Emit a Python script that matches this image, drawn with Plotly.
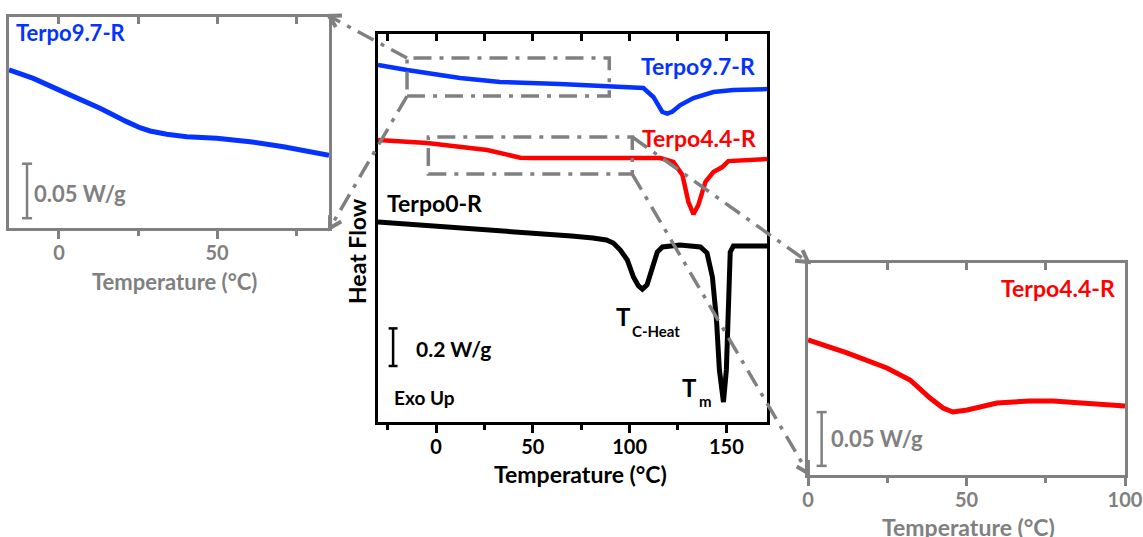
import math
import plotly.graph_objects as go

W, H = 1143, 537

# ---------------- data ----------------
# main panel: heat flow (W/g, arbitrary offset) vs temperature (°C)
t0_T = [-30, 0, 25, 47, 70, 81, 88, 91.6, 95.2, 98.8, 102, 104.5, 106.6, 109, 111.7,
        114.3, 117, 126, 136.6, 140, 142.8, 144.9, 146.4, 148.5, 150, 151, 152, 153.6, 171]
t0_HF = [1.064, 1.043, 1.027, 1.005, 0.989, 0.979, 0.968, 0.952, 0.915, 0.862, 0.771, 0.725,
         0.707, 0.729, 0.824, 0.904, 0.931, 0.941, 0.931, 0.899, 0.771, 0.543, 0.277, 0.106,
         0.277, 0.633, 0.904, 0.936, 0.936]

t44_T = [-30, -4.7, 26.4, 36, 43.5, 50.2, 81.2, 115.9, 122.6, 127.3, 130.4, 133, 135.5, 139.2,
         143.3, 147.9, 151, 158.8, 171]
t44_HF = [1.500, 1.484, 1.447, 1.425, 1.406, 1.404, 1.404, 1.404, 1.383, 1.314, 1.170, 1.106,
          1.154, 1.277, 1.330, 1.356, 1.388, 1.394, 1.399]

t97_T = [-30, -15, 12.4, 33.1, 64.1, 90, 107.1, 112.3, 116.9, 119.5, 122, 126.2, 133,
         143.3, 153.6, 171]
t97_HF = [1.899, 1.872, 1.830, 1.809, 1.798, 1.787, 1.777, 1.729, 1.649, 1.640, 1.650, 1.686,
          1.723, 1.755, 1.766, 1.771]

# left inset (Terpo9.7-R, zoom)
l97_T = [-15.8, -8.1, 2.4, 13, 21.4, 25.6, 28.8, 34.1, 40.4, 49.9, 60.4, 71, 85.4]
l97_HF = [0.1450, 0.1373, 0.1235, 0.1098, 0.0976, 0.0920, 0.0890, 0.0860, 0.0838, 0.0823,
          0.0792, 0.0746, 0.0668]

# right inset (Terpo4.4-R, zoom)
r44_T = [0, 12.3, 24.9, 32.2, 38.5, 42.6, 45.7, 50.2, 59.6, 70, 77.3, 85.8, 100]
r44_HF = [0.1256, 0.1135, 0.0995, 0.0884, 0.0716, 0.0623, 0.0586, 0.0605, 0.0670, 0.0688,
          0.0688, 0.0670, 0.0642]

main_ticks = [0, 50, 100, 150]
left_ticks = [0, 50]
right_ticks = [0, 50, 100]

# zoom boxes drawn in main panel (temperature range, heat-flow range)
box97_T = [-15, 89.5]
box97_HF = [1.734, 1.936]
box44_T = [-4, 101.4]
box44_HF = [1.319, 1.516]

# ---------------- panel geometry (pixels) ----------------
MAIN = dict(x0=378, x1=767, y0=34, y1=422, xr=[-30, 171], yr=[0, 2.064])
LEFT = dict(x0=9, x1=329, y0=17, y1=228, xr=[-15.8, 85.4], yr=[0, 0.1936])
RIGHT = dict(x0=808, x1=1125, y0=263, y1=475, xr=[0, 100], yr=[0, 0.1972])

BLUE = "#0433ff"
RED = "#ff0000"
GRAY = "#808080"
FONT = "Lato"


def pp(px, py):
    return px / W, 1 - py / H


def dom(p):
    a = pp(p["x0"], p["y1"])
    b = pp(p["x1"], p["y0"])
    return [a[0], b[0]], [a[1], b[1]]


def to_px(p, t, v):
    px = p["x0"] + (t - p["xr"][0]) / (p["xr"][1] - p["xr"][0]) * (p["x1"] - p["x0"])
    py = p["y1"] - (v - p["yr"][0]) / (p["yr"][1] - p["yr"][0]) * (p["y1"] - p["y0"])
    return px, py


fig = go.Figure()
fig.add_trace(go.Scatter(x=t0_T, y=t0_HF, mode="lines", line=dict(color="black", width=5),
                         xaxis="x", yaxis="y", hoverinfo="skip"))
fig.add_trace(go.Scatter(x=t44_T, y=t44_HF, mode="lines", line=dict(color=RED, width=4.5),
                         xaxis="x", yaxis="y", hoverinfo="skip"))
fig.add_trace(go.Scatter(x=t97_T, y=t97_HF, mode="lines", line=dict(color=BLUE, width=4.5),
                         xaxis="x", yaxis="y", hoverinfo="skip"))
fig.add_trace(go.Scatter(x=l97_T, y=l97_HF, mode="lines", line=dict(color=BLUE, width=5),
                         xaxis="x3", yaxis="y2", hoverinfo="skip"))
fig.add_trace(go.Scatter(x=r44_T, y=r44_HF, mode="lines", line=dict(color=RED, width=5),
                         xaxis="x5", yaxis="y3", hoverinfo="skip"))
# invisible traces so the top (inside-tick) axes are drawn
for xa, ya in [("x2", "y"), ("x4", "y2"), ("x6", "y3")]:
    fig.add_trace(go.Scatter(x=[None], y=[None], xaxis=xa, yaxis=ya, showlegend=False,
                             hoverinfo="skip"))


def bottom_axis(p, ticks, color, anchor):
    xd, _ = dom(p)
    return dict(domain=xd, anchor=anchor, range=p["xr"], tickmode="array", tickvals=ticks,
                ticks="outside", ticklen=8, tickwidth=3, tickcolor=color, automargin=False,
                showline=True, linecolor=color, linewidth=3, showgrid=False, zeroline=False,
                tickfont=dict(family=FONT, size=20, color=color, weight="bold"),
                ticklabelstandoff=-3,
                minor=dict(dtick=25, tick0=0, ticks="outside", ticklen=5, tickwidth=3,
                           tickcolor=color))


def top_axis(p, color, over, anchor):
    return dict(overlaying=over, side="top", anchor=anchor, range=p["xr"], tickmode="linear",
                tick0=0, dtick=25, ticks="inside", ticklen=7, tickwidth=3, tickcolor=color,
                showline=True, linecolor=color, linewidth=3, showticklabels=False,
                showgrid=False, zeroline=False, automargin=False)


def y_axis(p, color, anchor):
    _, yd = dom(p)
    return dict(domain=yd, anchor=anchor, range=p["yr"], showline=True, mirror=True,
                linecolor=color, linewidth=3, ticks="", showticklabels=False,
                showgrid=False, zeroline=False, automargin=False)


fig.update_layout(
    width=W, height=H, autosize=False,
    margin=dict(l=0, r=0, t=0, b=0, autoexpand=False),
    paper_bgcolor="white", plot_bgcolor="white", showlegend=False,
    font=dict(family=FONT, weight="bold"),
    xaxis=bottom_axis(MAIN, main_ticks, "black", "y"),
    xaxis2=top_axis(MAIN, "black", "x", "y"),
    yaxis=y_axis(MAIN, "black", "x"),
    xaxis3=bottom_axis(LEFT, left_ticks, GRAY, "y2"),
    xaxis4=top_axis(LEFT, GRAY, "x3", "y2"),
    yaxis2=y_axis(LEFT, GRAY, "x3"),
    xaxis5=bottom_axis(RIGHT, right_ticks, GRAY, "y3"),
    xaxis6=top_axis(RIGHT, GRAY, "x5", "y3"),
    yaxis3=y_axis(RIGHT, GRAY, "x5"),
)

shapes = []
DASH = "18px,8px,4px,8px"
dline = dict(color=GRAY, width=3.5, dash=DASH)

# zoom boxes in main panel
for bt, bh in [(box97_T, box97_HF), (box44_T, box44_HF)]:
    shapes.append(dict(type="rect", xref="x", yref="y", x0=bt[0], x1=bt[1], y0=bh[0], y1=bh[1],
                       line=dline, layer="above"))

# connector lines with open arrowheads
b97_tl = to_px(MAIN, box97_T[0], box97_HF[1])
b97_bl = to_px(MAIN, box97_T[0], box97_HF[0])
b44_tr = to_px(MAIN, box44_T[1], box44_HF[1])
b44_br = to_px(MAIN, box44_T[1], box44_HF[0])
conns = [
    (b97_tl, (LEFT["x1"], LEFT["y0"] - 1)),
    (b97_bl, (LEFT["x1"] + 1, LEFT["y1"])),
    (b44_tr, (RIGHT["x0"], RIGHT["y0"] - 1)),
    (b44_br, (RIGHT["x0"], RIGHT["y1"] - 2)),
]
for (sx, sy), (ex, ey) in conns:
    a = pp(sx, sy)
    b = pp(ex, ey)
    shapes.append(dict(type="line", xref="paper", yref="paper", x0=a[0], y0=a[1], x1=b[0],
                       y1=b[1], line=dline, layer="above"))
    ang = math.atan2(sy - ey, sx - ex)
    L, spread = 13, math.radians(30)
    p1 = (ex + L * math.cos(ang + spread), ey + L * math.sin(ang + spread))
    p2 = (ex + L * math.cos(ang - spread), ey + L * math.sin(ang - spread))
    q1, q0, q2 = pp(*p1), pp(ex, ey), pp(*p2)
    path = f"M {q1[0]},{q1[1]} L {q0[0]},{q0[1]} L {q2[0]},{q2[1]}"
    shapes.append(dict(type="path", xref="paper", yref="paper", path=path,
                       line=dict(color=GRAY, width=4), layer="above"))


# scale bars
def scalebar(xref, yref, t, v0, v1, half, color):
    out = [dict(type="line", xref=xref, yref=yref, x0=t, x1=t, y0=v0, y1=v1,
                line=dict(color=color, width=2.5))]
    for v in (v0, v1):
        out.append(dict(type="line", xref=xref, yref=yref, x0=t - half, x1=t + half, y0=v, y1=v,
                        line=dict(color=color, width=2.5)))
    return out


shapes += scalebar("x", "y", -22.2, 0.298, 0.498, 2.3, "black")
shapes += scalebar("x3", "y2", -10.1, 0.009, 0.059, 1.6, GRAY)
shapes += scalebar("x5", "y3", 4.3, 0.0085, 0.0585, 1.6, GRAY)
fig.update_layout(shapes=shapes)


def ann(text, px, py, size, color, xanchor="left", angle=0):
    x, y = pp(px, py)
    return dict(text=text, x=x, y=y, xref="paper", yref="paper", showarrow=False,
                xanchor=xanchor, yanchor="middle", textangle=angle,
                font=dict(family=FONT, size=size, color=color, weight="bold"))


anns = [
    ann("Terpo9.7-R", 757, 66, 23, BLUE, "right"),
    ann("Terpo4.4-R", 758, 138, 23, RED, "right"),
    ann("Terpo0-R", 385, 203, 23, "black"),
    ann("T", 623, 316, 24, "black", "center"),
    ann("C-Heat", 630, 331, 15, "black"),
    ann("T", 689, 387, 24, "black", "center"),
    ann("m", 697, 401, 15, "black"),
    ann("0.2 W/g", 414, 348, 21, "black"),
    ann("Exo Up", 392, 397, 19, "black"),
    ann("Heat Flow", 357, 251, 23, "black", "center", -90),
    ann("Temperature (°C)", 580, 474, 23, "black", "center"),
    ann("Terpo9.7-R", 14, 33, 22, BLUE),
    ann("0.05 W/g", 32, 193, 22, GRAY),
    ann("Temperature (°C)", 174, 281, 22, GRAY, "center"),
    ann("Terpo4.4-R", 1117, 288, 23, RED, "right"),
    ann("0.05 W/g", 829, 438, 22, GRAY),
    ann("Temperature (°C)", 968, 527, 23, GRAY, "center"),
]
fig.update_layout(annotations=anns)

POST = "document.body.style.margin='0';document.body.style.overflow='hidden';"
fig.write_html("out.html", post_script=POST, config={"displayModeBar": False})
